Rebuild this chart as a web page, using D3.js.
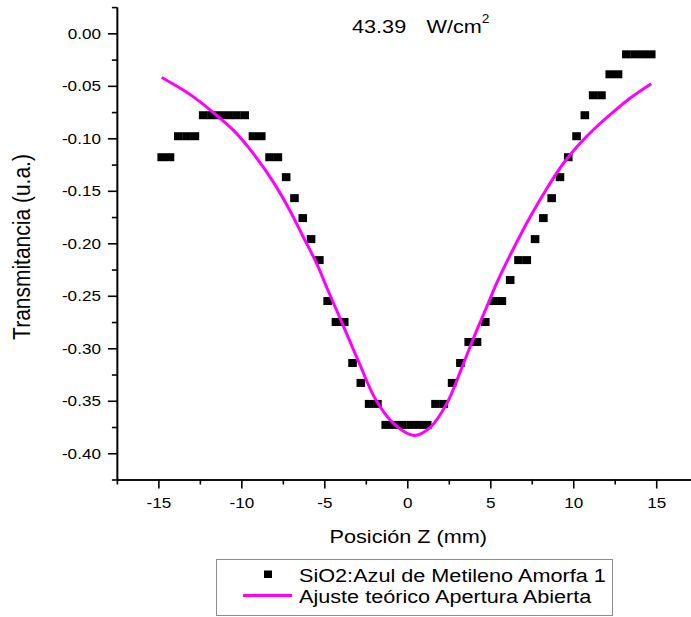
<!DOCTYPE html>
<html>
<head>
<meta charset="utf-8">
<script src="https://cdn.jsdelivr.net/npm/d3@7"></script>
<style>
  body { margin: 0; background: #fff; }
  text { font-family: Arial, "Liberation Sans", sans-serif; fill: #000; }
</style>
</head>
<body>
<svg id="chart" width="691" height="617"></svg>
<script>
// measured points (Z in mm, transmittance in u.a.)
const posZ = [-14.8, -14.3, -13.8, -13.3, -12.8, -12.3, -11.8, -11.3, -10.8, -10.3,
              -9.8, -9.3, -8.8, -8.3, -7.8, -7.3, -6.8, -6.3, -5.8, -5.3,
              -4.8, -4.3, -3.8, -3.3, -2.8, -2.3, -1.8, -1.3, -0.8, -0.3,
              0.2, 0.7, 1.2, 1.7, 2.2, 2.7, 3.2, 3.7, 4.2, 4.7,
              5.2, 5.7, 6.2, 6.7, 7.2, 7.7, 8.2, 8.7, 9.2, 9.7,
              10.2, 10.7, 11.2, 11.7, 12.2, 12.7, 13.2, 13.7, 14.2, 14.7];
const transm = [-0.118, -0.118, -0.098, -0.098, -0.098, -0.078, -0.078, -0.078, -0.078, -0.078,
                -0.078, -0.098, -0.098, -0.118, -0.118, -0.137, -0.157, -0.176, -0.196, -0.216,
                -0.255, -0.275, -0.275, -0.314, -0.333, -0.353, -0.353, -0.373, -0.373, -0.373,
                -0.373, -0.373, -0.373, -0.353, -0.353, -0.333, -0.314, -0.294, -0.294, -0.275,
                -0.255, -0.255, -0.235, -0.216, -0.216, -0.196, -0.176, -0.157, -0.137, -0.118,
                -0.098, -0.078, -0.059, -0.059, -0.039, -0.039, -0.020, -0.020, -0.020, -0.020];

// fitted curve
const fitZ = [-14.8, -13.5, -12.5, -11.5, -10.5, -9.5, -8.7, -7.9, -7.1, -6.3, -5.5, -4.8,
              -3.9, -2.9, -1.9, -0.8, 0.4, 1.4, 2.4, 3.2, 4.0, 4.8, 5.5, 6.4,
              7.4, 8.4, 9.4, 10.4, 11.4, 12.4, 13.4, 14.7];
const fitT = [-0.042, -0.054, -0.065, -0.078, -0.092, -0.110, -0.127, -0.146, -0.168, -0.193, -0.218, -0.244,
              -0.277, -0.314, -0.349, -0.372, -0.383, -0.375, -0.352, -0.322, -0.290, -0.260, -0.234, -0.205,
              -0.175, -0.148, -0.124, -0.105, -0.089, -0.075, -0.062, -0.048];

const xMajor = [-15, -10, -5, 0, 5, 10, 15];
const xMinor = [-17.5, -12.5, -7.5, -2.5, 2.5, 7.5, 12.5, 17.5];
const yMajor = [0, -0.05, -0.10, -0.15, -0.20, -0.25, -0.30, -0.35, -0.40];
const yMinor = [0.025, -0.025, -0.075, -0.125, -0.175, -0.225, -0.275, -0.325, -0.375, -0.425];

const seriesNames = ["SiO2:Azul de Metileno Amorfa 1", "Ajuste teórico Apertura Abierta"];
const fitColor = "#ff00ff";
const sx = 1.14; // the original figure is a bit stretched sideways

const svg = d3.select("#chart");

const x = d3.scaleLinear().domain([-17.5, 17.5]).range([116.9, 697.7]);
const y = d3.scaleLinear().domain([-0.425, 0.025]).range([479.5, 7.1]);

// put a text node in a stretched frame so glyphs look like the original
function stretchText(sel) {
    sel.each(function() {
        const t = d3.select(this);
        const tx = +t.attr("x") || 0, ty = +t.attr("y") || 0;
        t.attr("x", 0).attr("y", 0)
         .attr("transform", `translate(${tx},${ty}) scale(${sx},1)`);
    });
}

// axes
const yAxis = svg.append("g").attr("transform", `translate(${x(-17.5)},0)`)
    .call(d3.axisLeft(y).tickValues(yMajor).tickFormat(d3.format(".2f"))
          .tickSize(9).tickPadding(7).tickSizeOuter(0));
svg.append("g").attr("transform", `translate(${x(-17.5)},0)`)
    .call(d3.axisLeft(y).tickValues(yMinor).tickFormat("").tickSize(5).tickSizeOuter(0));

const xAxis = svg.append("g").attr("transform", `translate(0,${y(-0.425)})`)
    .call(d3.axisBottom(x).tickValues(xMajor).tickFormat(d3.format("d"))
          .tickSize(9).tickPadding(9).tickSizeOuter(0));
svg.append("g").attr("transform", `translate(0,${y(-0.425)})`)
    .call(d3.axisBottom(x).tickValues(xMinor).tickFormat("").tickSize(5).tickSizeOuter(0));

svg.selectAll(".domain, .tick line").attr("stroke", "#000").attr("stroke-width", 1.6);
yAxis.selectAll("text").attr("font-size", 15).attr("font-family", null)
    .text(d => d3.format(".2f")(d).replace("−", "-"));
xAxis.selectAll("text").attr("font-size", 15).attr("font-family", null)
    .text(d => d3.format("d")(d).replace("−", "-"));
stretchText(yAxis.selectAll("text"));
stretchText(xAxis.selectAll("text"));

// axis titles
svg.append("text")
    .attr("transform", `translate(29.5,247) scale(${sx},1) rotate(-90)`)
    .attr("text-anchor", "middle").attr("font-size", 21)
    .text("Transmitancia (u.a.)");

svg.append("text")
    .attr("x", 408.3).attr("y", 543.3)
    .attr("text-anchor", "middle").attr("font-size", 19)
    .text("Posición Z (mm)")
    .call(stretchText);

// intensity label
svg.append("text").attr("x", 352).attr("y", 33.3).attr("font-size", 19)
    .text("43.39").call(stretchText);
const unit = svg.append("text").attr("x", 426.5).attr("y", 33.3).attr("font-size", 19);
unit.append("tspan").text("W/cm");
unit.append("tspan").attr("font-size", 12).attr("dy", -10).text("2");
stretchText(unit);

// data markers
svg.append("g").selectAll("rect")
    .data(posZ.map((z, i) => [z, transm[i]]))
    .join("rect")
    .attr("x", d => x(d[0]) - 4.3)
    .attr("y", d => y(d[1]) - 4)
    .attr("width", 8.6)
    .attr("height", 8)
    .attr("fill", "#000");

// fitted curve
const line = d3.line()
    .x(d => x(d[0]))
    .y(d => y(d[1]))
    .curve(d3.curveCatmullRom.alpha(0.5));
svg.append("path")
    .datum(fitZ.map((z, i) => [z, fitT[i]]))
    .attr("d", line)
    .attr("fill", "none")
    .attr("stroke", fitColor)
    .attr("stroke-width", 3);

// legend
const lg = svg.append("g");
lg.append("rect").attr("x", 216.5).attr("y", 559.5).attr("width", 396).attr("height", 56)
    .attr("fill", "#fff").attr("stroke", "#8c8c8c").attr("stroke-width", 1);
lg.append("rect").attr("x", 264).attr("y", 570.5).attr("width", 8).attr("height", 7.5).attr("fill", "#000");
lg.append("line").attr("x1", 243).attr("x2", 292).attr("y1", 595.5).attr("y2", 595.5)
    .attr("stroke", fitColor).attr("stroke-width", 3);
lg.selectAll("text.lab").data(seriesNames).join("text")
    .attr("class", "lab")
    .attr("x", 299).attr("y", (d, i) => 581.7 + i * 21.6)
    .attr("font-size", 19)
    .text(d => d)
    .call(stretchText);
</script>
</body>
</html>
